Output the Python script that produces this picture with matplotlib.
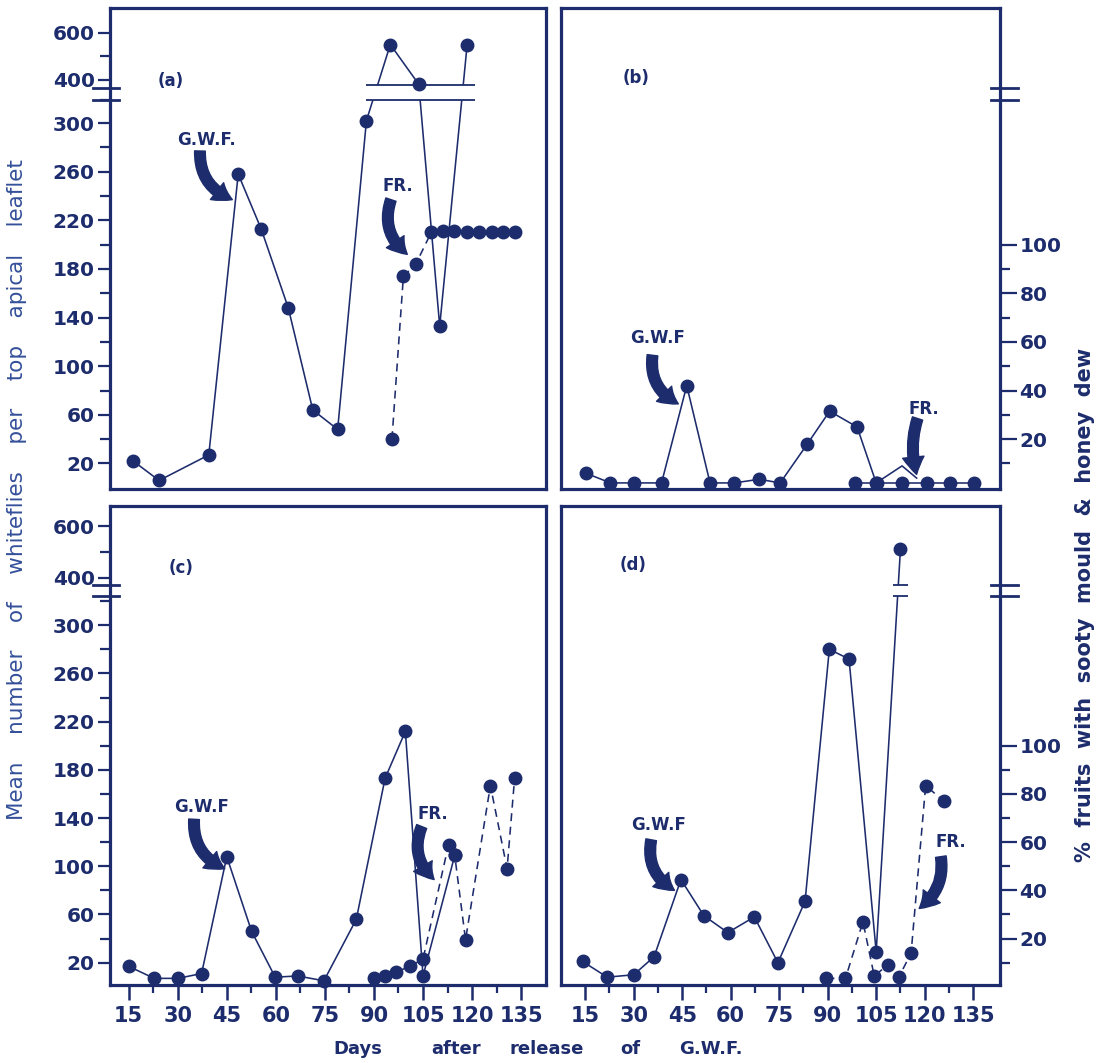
import numpy as np
import matplotlib
matplotlib.use("Agg")
import matplotlib.pyplot as plt

NAVY = '#1d2c6c'
LABEL_BLUE = '#34509a'

# --- data (whitefly counts, left-axis units) ---
# (a)
a_days = [16.4, 24.3, 39.5, 48.5, 55.5, 63.8, 71.3, 78.9, 87.7, 95.0, 103.7, 110.1, 118.5]
a_vals = [22, 6, 27, 258, 213, 148, 64, 48, 302, 550, 380, 133, 550]
a_fr_days = [95.5, 99.0, 102.8, 107.5, 111.0, 114.6, 118.4, 122.2, 126.0, 129.6, 133.2]
a_fr_vals = [40, 174, 184, 210, 211, 211, 210, 210, 210, 210, 210]

# (b)
b_days = [15.2, 22.8, 30.0, 38.6, 46.4, 53.6, 61.1, 68.8, 75.3, 83.7, 90.6, 99.1, 105.0]
b_vals = [12, 4, 4, 4, 84, 4, 4, 7, 4, 36, 63, 50, 4]
b_fr_days = [98.4, 105.2, 113.0, 120.8, 127.9, 135.3]
b_fr_vals = [4, 4, 4, 4, 4, 4]
b_bump_days = [105.0, 113.0, 117.5]
b_bump_vals = [4, 18, 8]

# (c)
c_days = [15.0, 22.8, 30.0, 37.3, 45.0, 52.6, 59.8, 66.7, 74.7, 84.6, 93.4, 99.6, 105.0, 114.7]
c_vals = [17, 7, 7, 11, 108, 46, 8, 9, 5, 56, 173, 212, 9, 109]
c_fr_days = [90.0, 93.5, 96.6, 101.0, 105.0, 112.8, 114.7, 118.0, 125.6, 130.7, 133.0]
c_fr_vals = [7, 9, 12, 17, 23, 118, 109, 39, 167, 98, 173]

# (d)
d_days = [14.2, 21.8, 30.0, 36.3, 44.6, 51.7, 59.1, 67.3, 74.6, 83.0, 90.5, 96.6, 105.0, 112.5]
d_vals = [21, 8, 10, 25, 89, 59, 45, 58, 20, 71, 280, 272, 29, 510]
d_fr_days = [89.6, 95.5, 100.9, 104.4, 108.5, 112.0, 115.8, 120.3, 125.9]
d_fr_vals = [7, 7, 54, 9, 18, 8, 28, 167, 154]

# axis ticks
left_major = [20, 60, 100, 140, 180, 220, 260, 300, 400, 600]
left_minor = [40, 80, 120, 160, 200, 240, 280, 320, 500]
pct_major = [20, 40, 60, 80, 100]
pct_minor = [10, 30, 50, 70, 90]
day_major = [15, 30, 45, 60, 75, 90, 105, 120, 135]
day_minor = [22.5, 37.5, 52.5, 67.5, 82.5, 97.5, 112.5, 127.5]

xlabel_words = ['Days', 'after', 'release', 'of', 'G.W.F.']
xlabel_px = [358, 456, 547, 630, 711]


def make_break_scale(lo_end, up_y0, y400, k):
    """Eje y partido: lineal hasta lo_end, comprimido por encima de la rotura."""
    up_v0 = 400 - (y400 - up_y0) / k

    def fwd(v):
        v = np.asarray(v, dtype=float)
        mid = lo_end + (v - lo_end) * (up_y0 - lo_end) / (up_v0 - lo_end)
        up = y400 + (v - 400) * k
        return np.where(v <= lo_end, v, np.where(v < up_v0, mid, up))

    def inv(y):
        y = np.asarray(y, dtype=float)
        mid = lo_end + (y - lo_end) * (up_v0 - lo_end) / (up_y0 - lo_end)
        up = 400 + (y - y400) / k
        return np.where(y <= lo_end, y, np.where(y < up_y0, mid, up))

    return fwd, inv, up_v0


def setup_axes(ax, scale, ylim, xlim, side, xticks):
    fwd, inv, up_v0 = scale
    ax.set_yscale('function', functions=(fwd, inv))
    ax.set_ylim(*ylim)
    ax.set_xlim(*xlim)
    for sp in ax.spines.values():
        sp.set_linewidth(2.3)
        sp.set_color(NAVY)

    if xticks:
        ax.set_xticks(day_major)
        ax.set_xticks(day_minor, minor=True)
        ax.tick_params(axis='x', which='major', length=11, width=1.8, colors=NAVY,
                       labelsize=15, pad=4)
        ax.tick_params(axis='x', which='minor', length=6, width=1.6, colors=NAVY)
        for lab in ax.get_xticklabels():
            lab.set_fontweight('bold')
    else:
        ax.set_xticks([])

    if side == 'left':
        ax.set_yticks(left_major)
        ax.set_yticklabels([str(v) for v in left_major])
        ax.set_yticks(left_minor, minor=True)
        ax.tick_params(axis='y', which='major', length=9, width=1.6, colors=NAVY,
                       labelsize=14.5, pad=2)
        ax.tick_params(axis='y', which='minor', length=7, width=1.6, colors=NAVY)
    else:
        ax.yaxis.tick_right()
        ax.set_yticks([2 * p for p in pct_major])
        ax.set_yticklabels([str(p) for p in pct_major])
        ax.set_yticks([2 * p for p in pct_minor], minor=True)
        ax.tick_params(axis='y', which='major', length=12, width=1.6, colors=NAVY,
                       labelsize=14.5, pad=2)
        ax.tick_params(axis='y', which='minor', length=7, width=1.6, colors=NAVY)
    for lab in ax.get_yticklabels():
        lab.set_fontweight('bold')


def axis_break(ax, lo, hi, side):
    x0, x1 = (-0.04, 0.02) if side == 'left' else (0.98, 1.04)
    tr = ax.get_yaxis_transform()
    for v in (lo, hi):
        ax.plot([x0, x1], [v, v], transform=tr, color=NAVY, lw=2.0,
                clip_on=False, zorder=6)


def data_break(ax, d0, d1, lo, hi):
    ax.fill_between([d0, d1], lo, hi, color='white', zorder=3, lw=0)
    ax.hlines([lo, hi], d0, d1, color=NAVY, lw=1.3, zorder=3.5)


def series(ax, days, vals, dashed=False, markers=True):
    ls = (0, (5, 3.5)) if dashed else '-'
    ax.plot(days, vals, color=NAVY, lw=1.15, ls=ls, zorder=2)
    if markers:
        ax.plot(days, vals, ls='none', marker='o', ms=9, color=NAVY,
                zorder=4, clip_on=False)


def curved_arrow(ax, label, text_xy, start, end, rad):
    ax.text(*text_xy, label, ha='center', va='center', fontsize=12,
            fontweight='bold', color=NAVY, zorder=5)
    ax.annotate('', xy=end, xytext=start,
                arrowprops=dict(arrowstyle='simple,head_width=1.1,head_length=0.9,tail_width=0.55',
                                connectionstyle=f'arc3,rad={rad}', color=NAVY,
                                shrinkA=0, shrinkB=0, mutation_scale=14),
                zorder=5)


def main():
    W, H = 1107, 1063
    fig = plt.figure(figsize=(W / 100, H / 100), dpi=100)

    def box(l, r, t, b):
        return [l / W, 1 - b / H, (r - l) / W, (b - t) / H]

    ax_a = fig.add_axes(box(110, 546, 8, 489))
    ax_b = fig.add_axes(box(561, 1000, 8, 489))
    ax_c = fig.add_axes(box(110, 546, 506, 985))
    ax_d = fig.add_axes(box(561, 1000, 506, 985))

    top_scale = make_break_scale(319, 328.8, 335.7, 0.1925)
    bot_scale = make_break_scale(324, 333.0, 339.6, 0.212)

    setup_axes(ax_a, top_scale, (-1, 706), (9.3, 142.6), 'left', False)
    setup_axes(ax_b, top_scale, (-1, 706), (7.5, 143.3), 'right', False)
    setup_axes(ax_c, bot_scale, (1.5, 680), (9.3, 142.6), 'left', True)
    setup_axes(ax_d, bot_scale, (1.5, 680), (7.5, 143.3), 'right', True)

    axis_break(ax_a, 319, top_scale[2], 'left')
    axis_break(ax_b, 319, top_scale[2], 'right')
    axis_break(ax_c, 324, bot_scale[2], 'left')
    axis_break(ax_d, 324, bot_scale[2], 'right')

    # (a)
    series(ax_a, a_days, a_vals)
    series(ax_a, a_fr_days, a_fr_vals, dashed=True)
    data_break(ax_a, 87.5, 121.0, 319, 378)
    curved_arrow(ax_a, 'G.W.F.', (38.9, 286), (36.8, 277), (46.7, 237), 0.35)
    curved_arrow(ax_a, 'FR.', (97.4, 248), (95.2, 237), (100.2, 192), 0.35)

    # (b)
    series(ax_b, b_days, b_vals)
    series(ax_b, b_bump_days, b_bump_vals, markers=False)
    series(ax_b, b_fr_days, b_fr_vals, markers=True)
    curved_arrow(ax_b, 'G.W.F', (37.5, 123), (35.8, 109), (43.8, 69), 0.35)
    curved_arrow(ax_b, 'FR.', (119.7, 65), (117.8, 57), (117.5, 11), 0.15)

    # (c)
    series(ax_c, c_days, c_vals)
    series(ax_c, c_fr_days, c_fr_vals, dashed=True)
    curved_arrow(ax_c, 'G.W.F', (37.2, 149), (35.0, 139), (44.4, 98), 0.35)
    curved_arrow(ax_c, 'FR.', (107.9, 143), (104.6, 133), (108.4, 89), 0.35)

    # (d)
    series(ax_d, d_days, d_vals)
    series(ax_d, d_fr_days, d_fr_vals, dashed=True)
    data_break(ax_d, 110.3, 114.7, 324, bot_scale[2])
    curved_arrow(ax_d, 'G.W.F', (37.6, 134), (35.4, 122), (42.6, 80), 0.35)
    curved_arrow(ax_d, 'FR.', (128.0, 120), (125.0, 108), (118.3, 65), -0.3)

    for ax, letter, pos in [(ax_a, '(a)', (0.14, 0.848)), (ax_b, '(b)', (0.17, 0.855)),
                            (ax_c, '(c)', (0.163, 0.87)), (ax_d, '(d)', (0.164, 0.877))]:
        ax.text(*pos, letter, transform=ax.transAxes, ha='center', va='center',
                fontsize=12, fontweight='bold', color=NAVY)

    # etiquetas de los ejes
    fig.text(17 / W, 1 - 490 / H,
             'Mean    number    of    whiteflies    per    top    apical    leaflet',
             rotation=90, ha='center', va='center', fontsize=15.5, color=LABEL_BLUE)
    fig.text(1085 / W, 1 - 605 / H, '%  fruits  with  sooty  mould  &  honey  dew',
             rotation=90, ha='center', va='center', fontsize=15, fontweight='bold',
             color=NAVY)
    for word, px in zip(xlabel_words, xlabel_px):
        fig.text(px / W, 1 - 1049 / H, word, ha='center', va='center', fontsize=13,
                 fontweight='bold', color=NAVY)

    fig.savefig('out.png', dpi=100, facecolor='white')
    plt.close(fig)


if __name__ == "__main__":
    main()
